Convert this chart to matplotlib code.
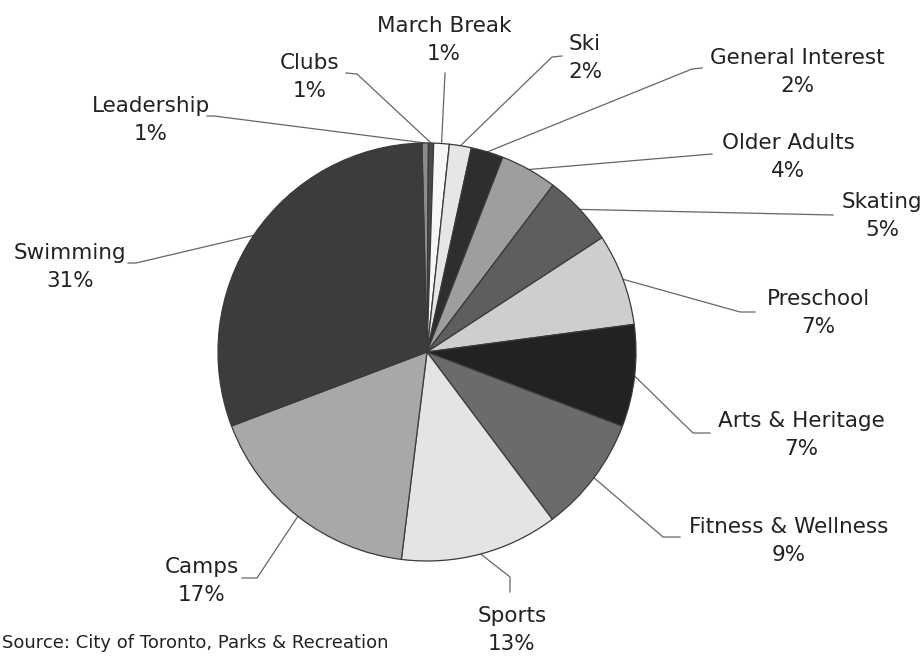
import matplotlib.pyplot as plt
import numpy as np

# program categories, clockwise from the top of the pie
categories = ["Leadership", "Clubs", "March Break", "Ski", "General Interest",
              "Older Adults", "Skating", "Preschool", "Arts & Heritage",
              "Fitness & Wellness", "Sports", "Camps", "Swimming"]

# share of registrations (%)
shares = [0.5, 0.4, 1.2, 1.7, 2.5, 4.4, 5.5, 7.1, 7.9, 9.0, 12.2, 17.3, 30.4]

# percentages as printed on the chart
pct_labels = ["1%", "1%", "1%", "2%", "2%", "4%", "5%", "7%", "7%", "9%",
              "13%", "17%", "31%"]

greys = ["#8c8c8c", "#4a4a4a", "#f7f7f7", "#e6e6e6", "#2e2e2e", "#9e9e9e",
         "#5e5e5e", "#cecece", "#222222", "#6b6b6b", "#e4e4e4", "#a8a8a8",
         "#3c3c3c"]

W, H = 924, 656


def P(x, y):
    # picture pixels (y down) -> data coords (y up)
    return x, H - y


# label centre (pixels) and where the leader line leaves the label
label_pos = {
    "Leadership": (151, 120),
    "Clubs": (310, 77),
    "March Break": (444, 40),
    "Ski": (585, 58),
    "General Interest": (797, 72),
    "Older Adults": (788, 157),
    "Skating": (882, 216),
    "Preschool": (818, 313),
    "Arts & Heritage": (801, 435),
    "Fitness & Wellness": (789, 541),
    "Sports": (512, 630),
    "Camps": (202, 581),
    "Swimming": (70, 267),
}
stubs = {
    "Leadership": [(207, 116), (214, 116)],
    "Clubs": [(346, 73), (357, 74)],
    "March Break": [(445, 73)],
    "Ski": [(562, 56), (552, 57)],
    "General Interest": [(702, 68), (692, 69)],
    "Older Adults": [(712, 154), (700, 155)],
    "Skating": [(833, 215)],
    "Preschool": [(755, 312), (740, 312)],
    "Arts & Heritage": [(710, 433), (693, 433)],
    "Fitness & Wellness": [(680, 537), (663, 537)],
    "Sports": [(510, 592), (510, 577)],
    "Camps": [(242, 578), (257, 578)],
    "Swimming": [(128, 263), (136, 263)],
}

fig = plt.figure(figsize=(W / 100, H / 100), dpi=100)
ax = fig.add_axes([0, 0, 1, 1])

cx, cy = P(427, 352)
R = 209
wedges, _ = ax.pie(shares, colors=greys, startangle=91.4, counterclock=False,
                   center=(cx, cy), radius=R,
                   wedgeprops=dict(edgecolor="#3a3a3a", linewidth=0.9))

# leader lines start on the rim at the middle of each slice
for w, name, pct in zip(wedges, categories, pct_labels):
    mid = np.deg2rad((w.theta1 + w.theta2) / 2)
    rx, ry = cx + R * np.cos(mid), cy + R * np.sin(mid)
    pts = [P(*p) for p in stubs[name]] + [(rx, ry)]
    xs = [p[0] for p in pts]
    ys = [p[1] for p in pts]
    ax.plot(xs, ys, color="#666666", lw=0.9, zorder=0)
    lx, ly = P(*label_pos[name])
    ax.text(lx, ly, name + "\n" + pct, ha="center", va="center",
            fontsize=15.5, color="#222222", linespacing=1.45)

ax.text(*P(2, 643), "Source: City of Toronto, Parks & Recreation",
        ha="left", va="center", fontsize=13, color="#222222")

ax.set_xlim(0, W)
ax.set_ylim(0, H)
ax.set_aspect("equal")
ax.axis("off")

plt.savefig("out.png", dpi=100)
